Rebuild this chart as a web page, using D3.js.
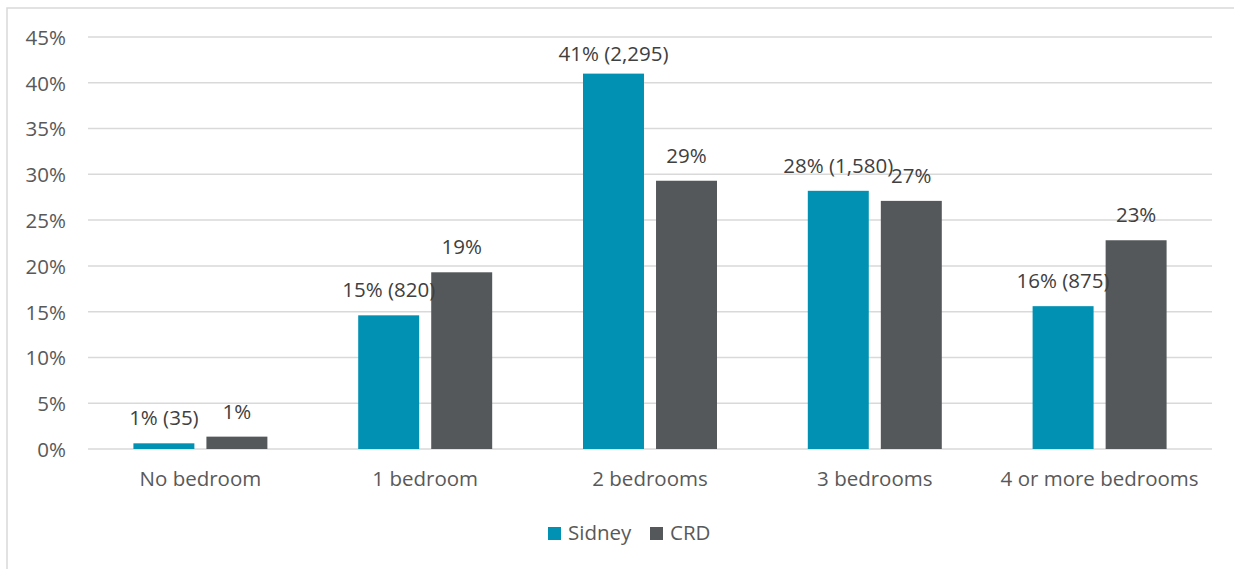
<!DOCTYPE html>
<html>
<head>
<meta charset="utf-8">
<script src="https://cdn.jsdelivr.net/npm/d3@7"></script>
<style>
  html, body { margin: 0; padding: 0; background: #fff; }
  svg { display: block; font-family: "Open Sans", Lato, sans-serif; }
</style>
</head>
<body>
<svg id="chart" width="1234" height="569"></svg>
<script>
// Dwelling size by number of bedrooms, Sidney vs. CRD
const categories = ["No bedroom", "1 bedroom", "2 bedrooms", "3 bedrooms", "4 or more bedrooms"];
const seriesNames = ["Sidney", "CRD"];
const sidneyShare = [0.0062, 0.146, 0.410, 0.282, 0.156];
const sidneyCount = [35, 820, 2295, 1580, 875];
const crdShare = [0.0135, 0.193, 0.293, 0.271, 0.228];
const yTicks = [0, 0.05, 0.10, 0.15, 0.20, 0.25, 0.30, 0.35, 0.40, 0.45];
const colors = ["#0091b3", "#54585a"];

const FONT = "'Open Sans', Lato, sans-serif";
const FS = "20.5px";

const svg = d3.select("#chart");
const W = 1234, H = 569;
const plot = { left: 88, right: 1212, top: 37, bottom: 449 };

// chart frame
svg.append("rect")
  .attr("x", 7).attr("y", 8)
  .attr("width", W + 10).attr("height", H + 10)
  .attr("fill", "none").attr("stroke", "#d9d9d9").attr("stroke-width", 1.5);

const x0 = d3.scaleBand().domain(categories).range([plot.left, plot.right]).paddingInner(0).paddingOuter(0);
const y = d3.scaleLinear().domain([0, 0.45]).range([plot.bottom, plot.top]);

// bars occupy 134px of each 224.8px band, with a 12px gap between series
const groupWidth = x0.bandwidth() * 0.596;
const x1 = d3.scaleBand().domain(seriesNames)
  .range([0, groupWidth]).paddingInner(0.165).paddingOuter(0);

// gridlines
svg.append("g")
  .selectAll("line").data(yTicks).join("line")
  .attr("x1", plot.left).attr("x2", plot.right)
  .attr("y1", d => y(d)).attr("y2", d => y(d))
  .attr("stroke", "#d9d9d9").attr("stroke-width", 1.5);

// y axis labels
const yAxis = d3.axisLeft(y).tickValues(yTicks).tickFormat(d3.format(".0%")).tickSize(0).tickPadding(0);
const gy = svg.append("g").attr("transform", `translate(${plot.left - 22},0)`).call(yAxis);
gy.select(".domain").remove();
gy.selectAll("text").attr("fill", "#595959").style("font-size", FS)
  .style("font-family", FONT).attr("dy", "0.36em");

// x axis labels
const xAxis = d3.axisBottom(x0).tickSize(0).tickPadding(0);
const gx = svg.append("g").attr("transform", `translate(0,${plot.bottom + 37})`).call(xAxis);
gx.select(".domain").remove();
gx.selectAll("text").attr("fill", "#595959").style("font-size", FS)
  .style("font-family", FONT).attr("dy", 0);

const rows = categories.map((c, i) => ({
  category: c,
  values: [
    { series: "Sidney", value: sidneyShare[i], label: `${d3.format(".0%")(sidneyShare[i])} (${d3.format(",")(sidneyCount[i])})` },
    { series: "CRD", value: crdShare[i], label: d3.format(".0%")(crdShare[i]) }
  ]
}));

const colorOf = d3.scaleOrdinal().domain(seriesNames).range(colors);
const groups = svg.append("g").selectAll("g").data(rows).join("g")
  .attr("transform", d => `translate(${x0(d.category) + (x0.bandwidth() - groupWidth) / 2},0)`);

groups.selectAll("rect").data(d => d.values).join("rect")
  .attr("x", d => x1(d.series))
  .attr("width", x1.bandwidth())
  .attr("y", d => y(d.value))
  .attr("height", d => plot.bottom - y(d.value))
  .attr("fill", d => colorOf(d.series));

// value labels above bars, kept inside the plot area
groups.selectAll("text").data(d => d.values).join("text")
  .attr("x", d => x1(d.series) + x1.bandwidth() / 2)
  .attr("y", d => Math.max(y(d.value) - 18, plot.top + 24))
  .attr("text-anchor", "middle")
  .attr("fill", "#404040")
  .style("font-size", FS)
  .text(d => d.label);

// legend
const legend = svg.append("g").attr("transform", "translate(548,527)");
const items = [{ name: "Sidney", dx: 0 }, { name: "CRD", dx: 102 }];
const li = legend.selectAll("g").data(items).join("g")
  .attr("transform", d => `translate(${d.dx},0)`);
li.append("rect").attr("width", 13).attr("height", 13).attr("fill", d => colorOf(d.name));
li.append("text").attr("x", 20).attr("y", 13)
  .attr("fill", "#595959").style("font-size", FS).text(d => d.name);
</script>
</body>
</html>
